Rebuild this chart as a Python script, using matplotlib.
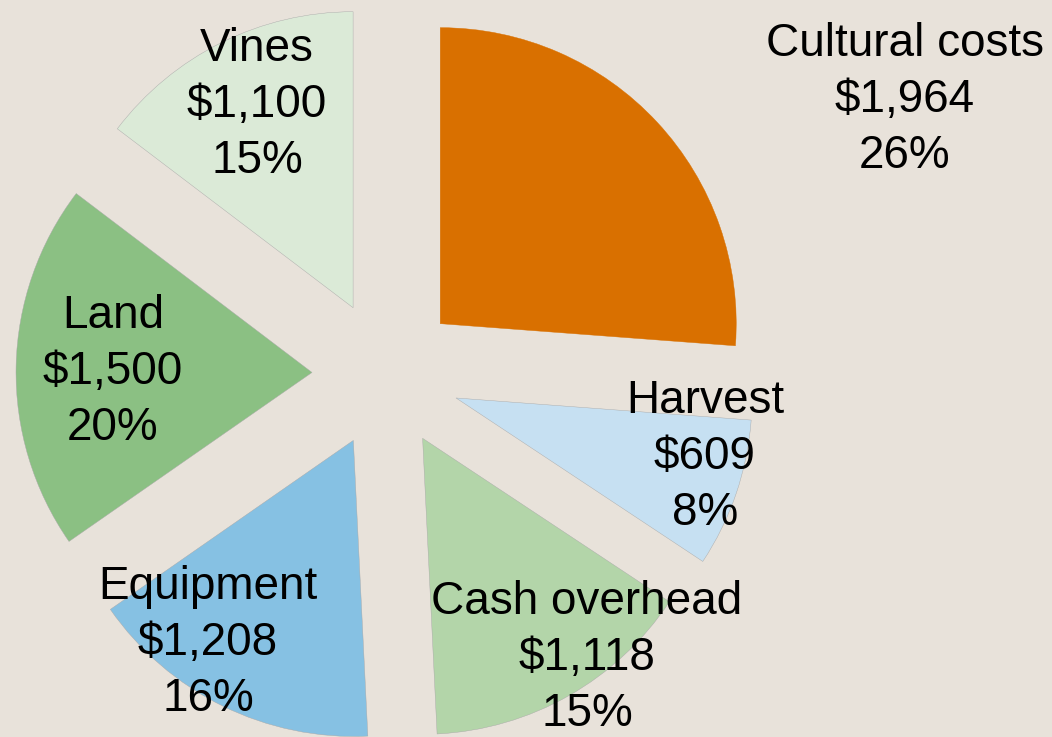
import matplotlib
matplotlib.use("Agg")
import matplotlib.pyplot as plt

# cost breakdown, clockwise from 12 o'clock
categories = ["Cultural costs", "Harvest", "Cash overhead", "Equipment", "Land", "Vines"]
costs = [1964, 609, 1118, 1208, 1500, 1100]
shares = [26, 8, 15, 16, 20, 15]

colors = ["#D97000", "#C6E0F2", "#B3D5A9", "#86C1E3", "#8BC083", "#DBEAD7"]
bg = "#E8E2DA"

# label centres in figure pixels (x, y from top)
label_px = [(905, 100), (705, 457), (587, 658), (208, 643), (113, 372), (257, 105)]

W, H = 1052, 737
cx, cy, r = 386, 374, 296   # pie centre / radius in pixels

plt.rcParams['font.family'] = ['Liberation Sans', 'DejaVu Sans']

fig = plt.figure(figsize=(W / 100, H / 100), dpi=100)
fig.patch.set_facecolor(bg)
ax = fig.add_axes([0, 0, 1, 1])
ax.set_facecolor(bg)

wedges, _ = ax.pie(costs, explode=[0.25] * len(costs), startangle=90,
                   counterclock=False, colors=colors, radius=1,
                   wedgeprops=dict(edgecolor="#A8A8A8", linewidth=0.3))
wedges[0].set_edgecolor(colors[0])

ax.set_aspect('auto')
ax.set_xlim(-cx / r, (W - cx) / r)
ax.set_ylim(-(H - cy) / r, cy / r)
ax.axis('off')

for name, cost, pct, (px, py) in zip(categories, costs, shares, label_px):
    txt = f"{name}\n${cost:,}\n{pct}%"
    ax.text(px / W, 1 - py / H, txt, transform=ax.transAxes,
            ha='center', va='center', fontsize=33, linespacing=1.34,
            color='black')

fig.savefig("out.png", dpi=100, facecolor=bg)
